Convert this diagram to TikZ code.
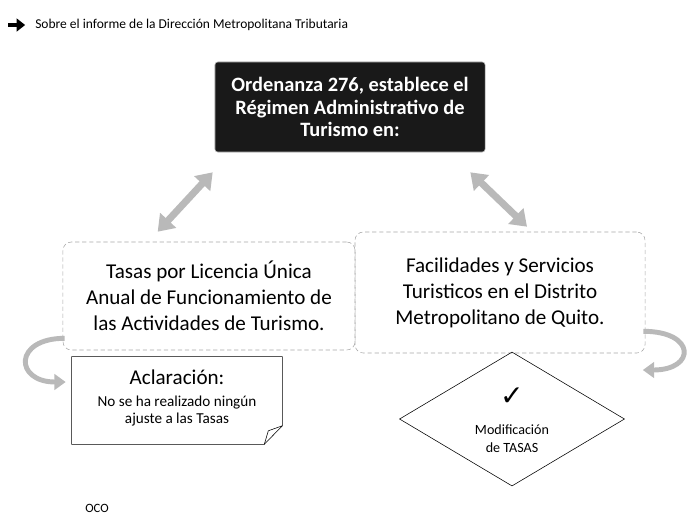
\documentclass[tikz,border=0pt]{standalone}
\usepackage{fontspec}
\setmainfont{Carlito}
\newfontfamily\symfont{DejaVu Sans}
\usepackage{tikz}
\usetikzlibrary{shapes.geometric, arrows.meta, positioning, calc}
\tikzstyle{titulo}   = [rectangle, rounded corners=2pt, minimum width=6.75cm,
                        minimum height=2.25cm, align=center, draw=gray!60,
                        fill=black!90, text=white,
                        font=\bfseries\fontsize{14.5}{16}\selectfont]
\tikzstyle{caja}     = [rectangle, rounded corners=6pt, align=center,
                        draw=gray!70, densely dashed, thin,
                        font=\fontsize{15}{18.5}\selectfont]
\tikzstyle{nota}     = [rectangle, minimum width=5.25cm, minimum height=2.175cm,
                        align=center, inner sep=0pt]
\tikzstyle{rombo}    = [diamond, draw=black, thin, minimum width=5.625cm,
                        minimum height=3.35cm, inner sep=0pt]
\tikzstyle{flecha}   = [{Triangle[length=11pt,width=15pt]}-{Triangle[length=11pt,width=15pt]},
                        line width=5pt, gray!55]
\tikzstyle{giro}     = [-{Triangle[length=8pt,width=11pt]}, line width=3.5pt, gray!55]
\tikzstyle{puntero}  = [-{Triangle[length=6pt,width=9pt]}, line width=2.6pt]

\begin{document}
\begin{tikzpicture}[x=0.025cm, y=-0.025cm]
  \useasboundingbox (0,0) rectangle (695,521);

  \node[anchor=west, inner sep=0pt, font=\fontsize{9.6}{11}\selectfont]
      (sobre) at (35,25) {Sobre el informe de la Dirección Metropolitana Tributaria};
  \coordinate (p0) at (8,25);
  \draw[puntero, shorten >=7pt] (p0) -- (sobre.west);

  \node[titulo] (ord) at (350,107)
      {Ordenanza 276, establece el\\Régimen Administrativo de\\Turismo en:};

  \node[caja, minimum width=7.3cm, minimum height=2.7cm] (tasas) at (209,296)
      {Tasas por Licencia Única\\Anual de Funcionamiento de\\las Actividades de Turismo.};
  \node[caja, minimum width=7.25cm, minimum height=3.025cm] (facil) at (500,292.5)
      {Facilidades y Servicios\\Turisticos en el Distrito\\Metropolitano de Quito.};

  \draw[flecha] ($(ord.south west)+(-2,20)$) -- ($(tasas.north west)+(95,-10)$);
  \draw[flecha] ($(ord.south east)+(-15,20)$) -- ($(facil.north)+(27,-5)$);

  % nota con esquina doblada
  \node[nota] (acl) at (177,398)
      {\fontsize{15}{18}\selectfont Aclaración:\\[4pt]
       \fontsize{10.8}{16}\selectfont No se ha realizado ningún\\
       \fontsize{10.8}{16}\selectfont ajuste a las Tasas};
  \draw[thin] ($(acl.north west)+(0,2.5)$) -- ($(acl.north east)+(0,2.5)$)
      -- ($(acl.south east)+(0,-16)$) -- ($(acl.south east)+(-18,2.5)$)
      -- ($(acl.south west)+(0,2.5)$) -- cycle;
  \draw[thin] ($(acl.south east)+(0,-16)$) -- ($(acl.south east)+(-14,-11)$)
      -- ($(acl.south east)+(-18,2.5)$);

  \node[rombo] (diam) at (512,419) {};
  \node[font=\symfont\fontsize{20}{20}\selectfont] (check) at ($(diam)+(0,-22)$) {✓};
  \node[align=center, font=\fontsize{10}{13}\selectfont] (mod) at ($(diam)+(0,20)$)
      {Modificación\\de TASAS};

  \draw[giro] ($(tasas.south west)+(2,-12)$) to[out=180, in=180, looseness=3]
      ($(acl.west)+(-6,-16)$);
  \draw[giro] ($(facil.south east)+(-2,-22)$) to[out=0, in=0, looseness=3.5]
      ($(diam.east)+(18,-49)$);

  \node[font=\fontsize{9}{11}\selectfont] (oco) at (97,508) {OCO};

\end{tikzpicture}
\end{document}
